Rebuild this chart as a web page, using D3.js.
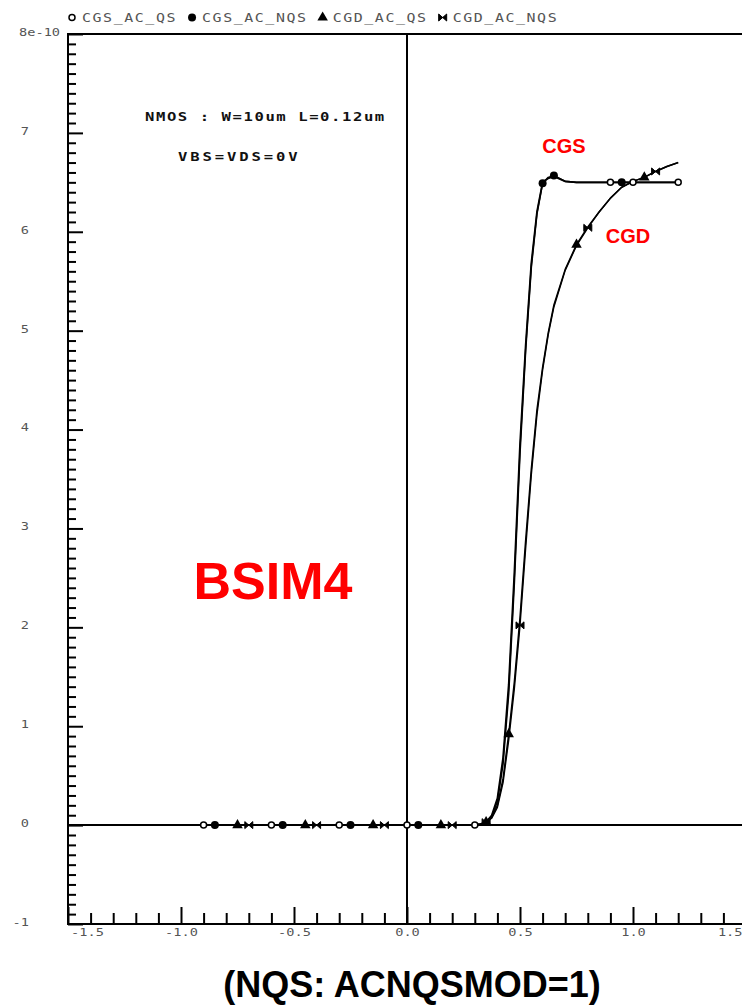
<!DOCTYPE html>
<html>
<head>
<meta charset="utf-8">
<script src="https://cdn.jsdelivr.net/npm/d3@7"></script>
<style>
  html, body { margin: 0; padding: 0; background: #fff; overflow: hidden; }
  svg { display: block; }
</style>
</head>
<body>
<svg id="chart" width="742" height="1007"></svg>
<script>
// Gate voltage sweep (V)
const vgs = [-0.9,-0.85,-0.8,-0.75,-0.7,-0.65,-0.6,-0.55,-0.5,-0.45,-0.4,-0.35,-0.3,-0.25,-0.2,-0.15,-0.1,-0.05,0,0.05,0.1,0.15,0.2,0.25,
             0.3,0.325,0.35,0.375,0.4,0.425,0.45,0.475,0.5,0.525,0.55,0.575,0.6,0.625,0.65,
             0.7,0.75,0.8,0.85,0.9,0.95,1.0,1.05,1.1,1.15,1.2];

// Capacitances in units of 1e-10 F
const cgsAcQs  = [0,0,0,0,0,0,0,0,0,0,0,0,0,0,0,0,0,0,0,0,0,0,0,0,
                  0,0.01,0.03,0.1,0.27,0.68,1.42,2.55,3.85,4.85,5.68,6.2,6.5,6.54,6.56,
                  6.51,6.5,6.5,6.5,6.5,6.5,6.5,6.5,6.5,6.5,6.5];
const cgsAcNqs = [0,0,0,0,0,0,0,0,0,0,0,0,0,0,0,0,0,0,0,0,0,0,0,0,
                  0,0.01,0.03,0.09,0.24,0.62,1.33,2.45,3.76,4.8,5.64,6.18,6.49,6.55,6.57,
                  6.51,6.5,6.5,6.5,6.5,6.5,6.5,6.5,6.5,6.5,6.5];
const cgdAcQs  = [0,0,0,0,0,0,0,0,0,0,0,0,0,0,0,0,0,0,0,0,0,0,0,0,
                  0,0.01,0.03,0.08,0.2,0.47,0.92,1.45,2.1,2.88,3.6,4.2,4.63,4.98,5.26,
                  5.62,5.87,6.05,6.2,6.34,6.45,6.51,6.55,6.61,6.66,6.7];
const cgdAcNqs = [0,0,0,0,0,0,0,0,0,0,0,0,0,0,0,0,0,0,0,0,0,0,0,0,
                  0,0.01,0.03,0.07,0.18,0.43,0.86,1.38,2.02,2.8,3.54,4.15,4.6,4.96,5.24,
                  5.61,5.86,6.04,6.2,6.34,6.45,6.51,6.55,6.61,6.66,6.7];

// Sweep points that carry a symbol, per series
const cgsAcQsMarks  = [-0.9,-0.6,-0.3,0,0.3,0.9,1.0,1.2];
const cgsAcNqsMarks = [-0.85,-0.55,-0.25,0.05,0.6,0.65,0.95];
const cgdAcQsMarks  = [-0.75,-0.45,-0.15,0.15,0.35,0.45,0.75,1.05];
const cgdAcNqsMarks = [-0.7,-0.4,-0.1,0.2,0.35,0.5,0.8,1.1];

const seriesNames = ["CGS_AC_QS","CGS_AC_NQS","CGD_AC_QS","CGD_AC_NQS"];

// Axis ticks and labels
const xTickValues = [-1.5,-1,-0.5,0,0.5,1,1.5];
const xTickLabels = ["-1.5","-1.0","-0.5","0.0","0.5","1.0","1.5"];
const yTickValues = [-1,0,1,2,3,4,5,6,7,8];
const yTickLabels = ["-1","0","1","2","3","4","5","6","7","8e-10"];

const svg = d3.select("#chart");
const x = d3.scaleLinear().domain([-1.5, 1.5]).range([68, 746]);
const y = d3.scaleLinear().domain([-1, 8]).range([924, 34]);

const series = [
  { name: seriesNames[0], values: cgsAcQs,  marks: cgsAcQsMarks,  kind: "open", width: 1.8 },
  { name: seriesNames[1], values: cgsAcNqs, marks: cgsAcNqsMarks, kind: "dot",  width: 1.6 },
  { name: seriesNames[2], values: cgdAcQs,  marks: cgdAcQsMarks,  kind: "tri",  width: 1.5 },
  { name: seriesNames[3], values: cgdAcNqs, marks: cgdAcNqsMarks, kind: "bow",  width: 1.4 }
];

// Frame (left, top, bottom) and the zero lines
svg.append("path")
  .attr("d", `M${x(1.5)},${y(8)}H${x(-1.5)}V${y(-1)}H${x(1.5)}`)
  .attr("fill", "none").attr("stroke", "#000").attr("stroke-width", 2);
svg.append("line")
  .attr("x1", x(-1.5)).attr("x2", x(1.5)).attr("y1", y(0)).attr("y2", y(0))
  .attr("stroke", "#000").attr("stroke-width", 2);
svg.append("line")
  .attr("x1", x(0)).attr("x2", x(0)).attr("y1", y(8)).attr("y2", y(-1))
  .attr("stroke", "#000").attr("stroke-width", 2);

function styleTicks(g) {
  g.select(".domain").remove();
  g.selectAll(".tick line").attr("stroke", "#000").attr("stroke-width", 2);
}

// Y ticks point into the plot
const yMinor = d3.range(-10, 81).filter(i => i % 10 !== 0).map(i => i / 10);
svg.append("g").attr("transform", `translate(${x(-1.5)},0)`)
  .call(d3.axisRight(y).tickValues(yMinor).tickSize(8).tickFormat(""))
  .call(styleTicks);
svg.append("g").attr("transform", `translate(${x(-1.5)},0)`)
  .call(d3.axisRight(y).tickValues(yTickValues).tickSize(15).tickFormat(""))
  .call(styleTicks);

// X ticks point up from the bottom edge
const xMinor = d3.range(-15, 16).filter(i => i % 5 !== 0).map(i => i / 10);
svg.append("g").attr("transform", `translate(0,${y(-1)})`)
  .call(d3.axisTop(x).tickValues(xMinor).tickSize(11).tickFormat(""))
  .call(styleTicks);
svg.append("g").attr("transform", `translate(0,${y(-1)})`)
  .call(d3.axisTop(x).tickValues(xTickValues).tickSize(17).tickFormat(""))
  .call(styleTicks);

// Wide plotter-style monospace lettering
const mono = "'DejaVu Sans Mono', monospace";
const wide = 1.3;

// X tick labels
const xLab = svg.append("g").attr("transform", `translate(0,${y(-1)})`)
  .call(d3.axisBottom(x).tickValues(xTickValues).tickSize(0).tickPadding(5)
        .tickFormat((d, i) => xTickLabels[i]));
xLab.select(".domain").remove();
xLab.selectAll("text")
  .attr("font-family", mono).attr("font-size", 10.5)
  .attr("transform", `scale(${wide},1)`).attr("fill", "#555");
xLab.selectAll(".tick").filter(d => d === -1.5).select("text")
  .attr("text-anchor", "start").attr("x", 2);
xLab.selectAll(".tick").filter(d => d === 1.5).select("text")
  .attr("text-anchor", "end").attr("x", -4 / wide);

// Y tick labels
const yLab = svg.append("g").attr("transform", "translate(29,-2)")
  .call(d3.axisLeft(y).tickValues(yTickValues).tickSize(0).tickPadding(0)
        .tickFormat((d, i) => yTickLabels[i]));
yLab.select(".domain").remove();
yLab.selectAll("text")
  .attr("font-family", mono).attr("font-size", 10.5)
  .attr("transform", `scale(${wide},1)`).attr("fill", "#555");
yLab.selectAll(".tick").filter(d => d === 8).select("text")
  .attr("text-anchor", "start").attr("x", -10 / wide);

// Symbols
function drawSymbol(g, kind, cx, cy) {
  if (kind === "open") {
    g.append("circle").attr("cx", cx).attr("cy", cy).attr("r", 3)
      .attr("fill", "#fff").attr("stroke", "#000").attr("stroke-width", 1.5);
  } else if (kind === "dot") {
    g.append("circle").attr("cx", cx).attr("cy", cy).attr("r", 4).attr("fill", "#000");
  } else if (kind === "tri") {
    g.append("path").attr("d", d3.symbol(d3.symbolTriangle, 48)())
      .attr("transform", `translate(${cx},${cy})`).attr("fill", "#000");
  } else {
    g.append("path").attr("d", "M-4,-3.5L4,3.5L4,-3.5L-4,3.5Z")
      .attr("transform", `translate(${cx},${cy})`).attr("fill", "#000")
      .attr("stroke", "#000").attr("stroke-width", 1);
  }
}

// Curves
const line = d3.line().x(d => x(d[0])).y(d => y(d[1]));
series.forEach(s => {
  const pts = vgs.map((v, i) => [v, s.values[i]]);
  svg.append("path").datum(pts).attr("d", line)
    .attr("fill", "none").attr("stroke", "#000")
    .attr("stroke-width", s.width).attr("stroke-linejoin", "round");
});
series.forEach(s => {
  const g = svg.append("g");
  s.marks.forEach(m => {
    const i = vgs.findIndex(v => Math.abs(v - m) < 1e-9);
    if (i >= 0) drawSymbol(g, s.kind, x(vgs[i]), y(s.values[i]));
  });
});

// Wide text helper: anchored at (tx, ty), stretched horizontally
function wideText(txt, tx, ty, size, spacing, opts) {
  return svg.append("text")
    .attr("transform", `translate(${tx},${ty}) scale(${wide},1)`)
    .attr("font-family", mono).attr("font-size", size)
    .attr("letter-spacing", spacing)
    .attr("font-weight", opts.bold ? "bold" : "normal")
    .attr("fill", opts.fill).text(txt);
}

// Legend: symbol, then name, laid out left to right
const legendSpacing = 1.2;
const legendAdvance = (11.5 * 0.602 + legendSpacing) * wide;
let lx = 72;
series.forEach(s => {
  drawSymbol(svg, s.kind, lx, 17.5);
  wideText(s.name, lx + 10, 22, 11.5, legendSpacing, { fill: "#555" });
  lx = lx + 10 + s.name.length * legendAdvance + 15;
});

// Device annotations
wideText("NMOS : W=10um L=0.12um", 145, 121, 12, 1.2, { bold: true, fill: "#111" });
wideText("VBS=VDS=0V", 178, 161, 12, 2.2, { bold: true, fill: "#111" });

const red = "#ff0000";
const sans = "'Liberation Sans', Arial, sans-serif";
svg.append("text").attr("x", 564).attr("y", 153).attr("text-anchor", "middle")
  .attr("font-family", sans).attr("font-weight", "bold").attr("font-size", 20)
  .attr("fill", red).text("CGS");
svg.append("text").attr("x", 628).attr("y", 243).attr("text-anchor", "middle")
  .attr("font-family", sans).attr("font-weight", "bold").attr("font-size", 20)
  .attr("fill", red).text("CGD");
svg.append("text").attr("x", 273).attr("y", 599).attr("text-anchor", "middle")
  .attr("font-family", sans).attr("font-weight", "bold").attr("font-size", 52)
  .attr("fill", red).text("BSIM4");
svg.append("text").attr("x", 412).attr("y", 997).attr("text-anchor", "middle")
  .attr("font-family", sans).attr("font-weight", "bold").attr("font-size", 36)
  .attr("fill", "#000").text("(NQS: ACNQSMOD=1)");
</script>
</body>
</html>
